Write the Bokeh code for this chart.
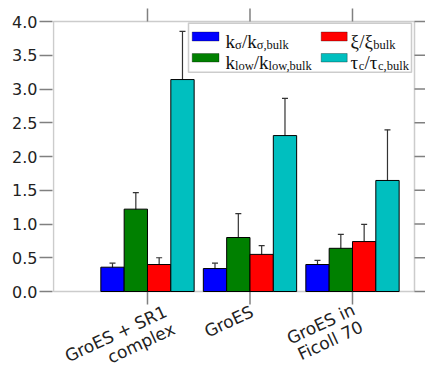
import math
from bokeh.plotting import figure
from bokeh.models import (Range1d, LinearAxis, FixedTicker, Whisker, TeeHead,
                          ColumnDataSource, BoxAnnotation, Label, NumeralTickFormatter)
from bokeh.embed import file_html
from bokeh.resources import INLINE

# ---------------- data ----------------
categories = ["GroES + SR1\ncomplex", "GroES", "GroES in\nFicoll 70"]
cat_pos = [1, 2, 3]
k_sigma = [0.36, 0.34, 0.40]
k_sigma_err = [0.06, 0.08, 0.06]
k_low = [1.22, 0.80, 0.64]
k_low_err = [0.245, 0.355, 0.205]
xi = [0.40, 0.55, 0.74]
xi_err = [0.10, 0.13, 0.255]
tau_c = [3.14, 2.31, 1.645]
tau_c_err = [0.715, 0.55, 0.75]
y_ticks = [0.0, 0.5, 1.0, 1.5, 2.0, 2.5, 3.0, 3.5, 4.0]

series = [
    (k_sigma, k_sigma_err, "#0000ff", [("k", 0), ("σ", 1), ("/", 0), ("k", 0), ("σ,bulk", 1)]),
    (k_low, k_low_err, "#008000", [("k", 0), ("low", 1), ("/", 0), ("k", 0), ("low,bulk", 1)]),
    (xi, xi_err, "#ff0000", [("ξ", 0), ("/", 0), ("ξ", 0), ("bulk", 1)]),
    (tau_c, tau_c_err, "#00bfbf", [("τ", 0), ("c", 1), ("/", 0), ("τ", 0), ("c,bulk", 1)]),
]

# ---------------- layout ----------------
W, H = 425, 368
BL = 52                        # left border (axis)
VL, VR, VT, VB = 53, 414, 21, 291   # visible plot box in pixels
XL, XR = 0.083, 3.605          # data x at visible box edges
YB, YT = 0.0, 4.0
SX = (XR - XL) / (VR - VL)
SY = (YT - YB) / (VB - VT)
BAR_W = 0.2276


def dx(px):
    return XL + (px - VL) * SX


def dy(py):
    return YB + (VB - py) * SY


p = figure(width=W, height=H, output_backend="svg", toolbar_location=None,
           x_range=Range1d(dx(BL), dx(W)), y_range=Range1d(dy(H), dy(0)),
           min_border_left=BL, min_border_right=0,
           min_border_top=0, min_border_bottom=0,
           x_axis_location=None, y_axis_location=None)
p.xgrid.visible = False
p.ygrid.visible = False
p.outline_line_color = None
p.background_fill_color = "white"
p.border_fill_color = "white"

FRAME_COL = "#555555"
TICK_COL = "#808080"

left = LinearAxis(ticker=FixedTicker(ticks=y_ticks),
                  formatter=NumeralTickFormatter(format="0.0"))
left.major_tick_out = 13
left.major_tick_in = 0
left.minor_tick_out = 0
left.minor_tick_in = 0
left.major_tick_line_color = TICK_COL
left.major_tick_line_width = 1.5
left.axis_line_color = None
left.major_label_standoff = 2
left.major_label_text_font = "DejaVu Sans"
left.major_label_text_font_size = "16px"
left.major_label_text_color = "#222222"
p.add_layout(left, "left")

# plot box
p.add_layout(BoxAnnotation(left=XL, right=XR, bottom=YB, top=YT,
                           fill_alpha=0, line_color=FRAME_COL, line_width=1.5,
                           level="underlay"))

# ticks on top, bottom (category positions) and right
p.segment(x0=cat_pos, x1=cat_pos, y0=[YT] * 3, y1=[dy(VT - 13)] * 3,
          line_color=TICK_COL, line_width=1.5)
p.segment(x0=cat_pos, x1=cat_pos, y0=[YB] * 3, y1=[dy(VB + 13)] * 3,
          line_color=TICK_COL, line_width=1.5)
p.segment(x0=[XR] * len(y_ticks), x1=[dx(VR + 11)] * len(y_ticks),
          y0=y_ticks, y1=y_ticks, line_color=TICK_COL, line_width=1.5)

# ---------------- bars + error bars ----------------
for i, (vals, errs, col, _) in enumerate(series):
    xs = [c + (i - 1.5) * BAR_W for c in cat_pos]
    src = ColumnDataSource(dict(x=xs, top=vals,
                                up=[v + e for v, e in zip(vals, errs)],
                                lo=[v - e for v, e in zip(vals, errs)]))
    p.vbar(x="x", top="top", bottom=0, width=BAR_W, source=src,
           fill_color=col, line_color="black", line_width=1)
    wh = Whisker(base="x", upper="up", lower="lo", source=src,
                 line_color="#333333", line_width=1.2,
                 upper_head=TeeHead(size=6, line_color="#333333", line_width=1.2),
                 lower_head=TeeHead(size=6, line_color="#333333", line_width=1.2))
    p.add_layout(wh)

# ---------------- legend (manual, with subscripts) ----------------
p.add_layout(BoxAnnotation(left=dx(188), right=dx(411), top=dy(22.7), bottom=dy(71.7),
                           fill_color="white", fill_alpha=1,
                           line_color=FRAME_COL, line_width=1.5, level="overlay"))

CW = {"k": 0.5, "σ": 0.55, "/": 0.278, ",": 0.25, "b": 0.5, "u": 0.5, "l": 0.278,
      "o": 0.5, "w": 0.722, "c": 0.444, "ξ": 0.46, "τ": 0.44}
MAIN, SUB, DROP = 19, 12.5, 4

sw_x = [(191.7, 218.5), (320.7, 346.7)]
sw_y = [(31.5, 40.5), (53.0, 61.5)]
txt_x = [225, 350]
txt_base = [40.5, 61.5]
slots = [(0, 0), (0, 1), (1, 0), (1, 1)]
for (vals, errs, col, segs), (c, r) in zip(series, slots):
    p.add_layout(BoxAnnotation(left=dx(sw_x[c][0]), right=dx(sw_x[c][1]),
                               top=dy(sw_y[r][0]), bottom=dy(sw_y[r][1]),
                               fill_color=col, fill_alpha=1, line_color="black",
                               line_width=1, level="overlay"))
    off = 0.0
    for t, is_sub in segs:
        size = SUB if is_sub else MAIN
        p.add_layout(Label(x=dx(txt_x[c]), y=dy(txt_base[r]), x_offset=off,
                           y_offset=-DROP if is_sub else 0,
                           text=t, text_font="Liberation Serif",
                           text_font_size=f"{size}px", text_color="#111111",
                           text_align="left", text_baseline="alphabetic",
                           level="overlay"))
        off += sum(CW.get(ch, 0.5) for ch in t) * size

# ---------------- category labels (rotated, right aligned lines) ----------------
ANG = math.radians(25)
LINE = 19
anchors = [(14, -10), (-2, -10), (-3, -8)]
for cpos, lab, (ox, oy) in zip(cat_pos, categories, anchors):
    for j, line in enumerate(lab.split("\n")):
        p.add_layout(Label(x=cpos, y=0, x_offset=ox + j * LINE * math.sin(ANG),
                           y_offset=oy - j * LINE * math.cos(ANG),
                           text=line, angle=ANG,
                           text_font="DejaVu Sans", text_font_size="17px",
                           text_color="#222222", text_align="right",
                           text_baseline="top"))

open("out.html", "w").write(file_html(p, INLINE))
